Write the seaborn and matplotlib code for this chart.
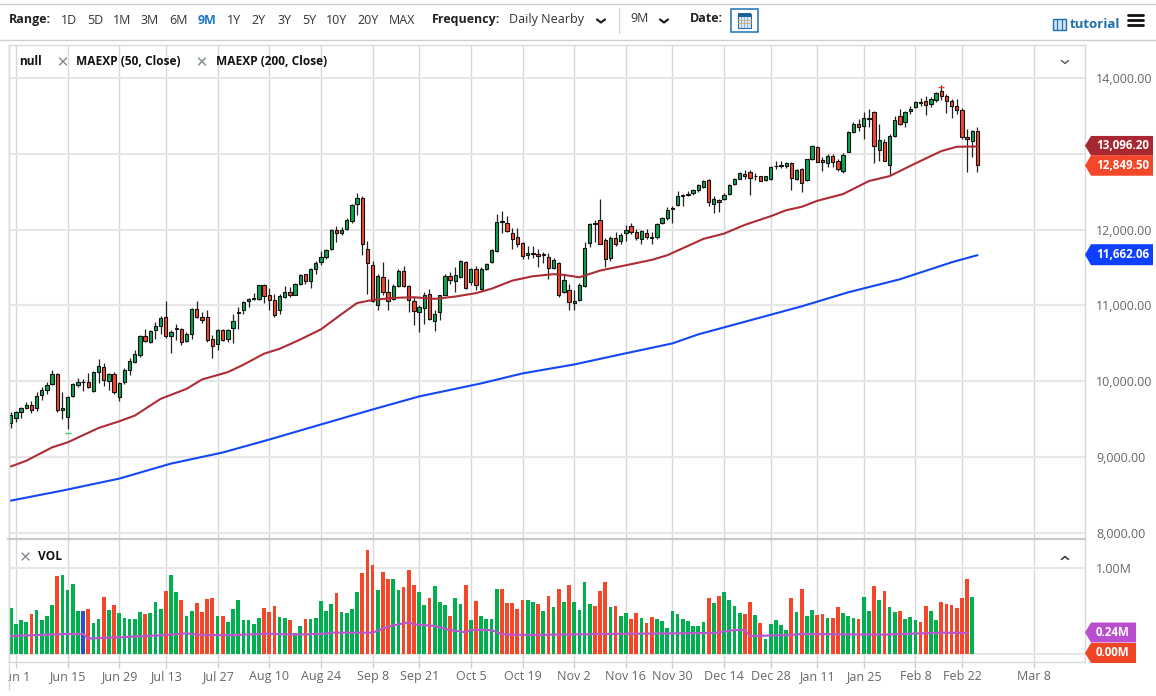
# Daily candle chart with moving averages and a volume pane
import numpy as np
import pandas as pd
import matplotlib
matplotlib.use("Agg")
import matplotlib.pyplot as plt
from matplotlib.patches import Polygon, Rectangle
import seaborn as sns

# Candles, one value per trading day
opens = [
    9453, 9514, 9589, 9651, 9682, 9647, 9815, 9885, 9960, 10088,
    9620, 9528, 9801, 9951, 9982, 9987, 9868, 10124, 10181, 10000,
    10093, 9788, 9982, 10141, 10256, 10349, 10600, 10521, 10671, 10728,
    10852, 10600, 10706, 10689, 10530, 10622, 10954, 10852, 10852, 10561,
    10494, 10680, 10556, 10702, 10909, 10932, 11051, 11082, 11090, 11263,
    11139, 11077, 10932, 11108, 11179, 11138, 11277, 11415, 11322, 11478,
    11572, 11634, 11741, 11991, 11955, 12009, 12116, 12335, 12420, 11746,
    11531, 11004, 11375, 11179, 11085, 11259, 11451, 11250, 11063, 10911,
    10964, 11156, 10795, 10911, 11143, 11384, 11322, 11375, 11571, 11304,
    11473, 11219, 11473, 11567, 11723, 12098, 12089, 11955, 11897, 11817,
    11661, 11679, 11683, 11670, 11634, 11496, 11558, 11179, 11206, 11027,
    11076, 11256, 11824, 12075, 12132, 11868, 11626, 11894, 11850, 11960,
    12053, 11974, 11872, 11960, 11894, 11903, 12092, 12158, 12277, 12326,
    12449, 12458, 12484, 12519, 12563, 12656, 12339, 12392, 12405, 12471,
    12598, 12673, 12739, 12757, 12704, 12700, 12651, 12669, 12832, 12858,
    12836, 12884, 12669, 12796, 12653, 12925, 13092, 12912, 12881, 12969,
    12903, 12771, 13026, 13281, 13387, 13365, 13475, 13549, 13048, 13154,
    12846, 13229, 13497, 13422, 13558, 13615, 13668, 13690, 13655, 13703,
    13822, 13756, 13695, 13633, 13580, 13224, 13163, 13299,
]
highs = [
    9589, 9611, 9664, 9731, 9744, 9850, 9920, 9991, 10150, 10106,
    9850, 9806, 9978, 10044, 10026, 10106, 10132, 10296, 10238, 10106,
    10115, 9991, 10168, 10300, 10415, 10609, 10689, 10680, 10781, 10856,
    11051, 10671, 10759, 10698, 10649, 10962, 11051, 10914, 10936, 10605,
    10684, 10684, 10693, 10892, 10980, 11060, 11095, 11157, 11272, 11280,
    11223, 11148, 11148, 11259, 11241, 11295, 11420, 11420, 11491, 11580,
    11714, 11741, 12009, 12045, 12036, 12156, 12339, 12478, 12437, 11844,
    11589, 11411, 11567, 11353, 11277, 11473, 11522, 11268, 11116, 11004,
    11179, 11219, 10938, 11143, 11411, 11442, 11509, 11598, 11589, 11491,
    11518, 11500, 11554, 11741, 12201, 12250, 12179, 12022, 12018, 11839,
    11786, 11786, 11741, 11705, 11688, 11621, 11571, 11406, 11277, 11206,
    11290, 11833, 12092, 12123, 12400, 11894, 11912, 11965, 11956, 12057,
    12088, 12009, 12000, 12009, 11974, 12088, 12167, 12299, 12317, 12506,
    12466, 12510, 12537, 12607, 12651, 12664, 12440, 12409, 12484, 12607,
    12686, 12761, 12783, 12783, 12748, 12713, 12713, 12845, 12906, 12898,
    12889, 12893, 12805, 12818, 12937, 13110, 13105, 12960, 12996, 12991,
    12925, 13004, 13303, 13418, 13453, 13545, 13593, 13567, 13387, 13189,
    13255, 13501, 13585, 13567, 13629, 13699, 13730, 13760, 13743, 13818,
    13901, 13787, 13725, 13717, 13598, 13321, 13312, 13347,
]
lows = [
    9382, 9457, 9514, 9634, 9581, 9611, 9753, 9832, 9947, 9589,
    9497, 9369, 9788, 9920, 9876, 9912, 9850, 9974, 9934, 9885,
    9832, 9735, 9956, 10075, 10238, 10318, 10512, 10503, 10560, 10627,
    10574, 10371, 10539, 10477, 10517, 10560, 10839, 10768, 10521, 10305,
    10406, 10525, 10512, 10508, 10693, 10883, 10980, 11068, 11068, 11033,
    10936, 10848, 10883, 11099, 11116, 11130, 11268, 11286, 11228, 11411,
    11536, 11607, 11732, 11839, 11933, 11991, 12089, 12187, 11665, 11152,
    11040, 10938, 11130, 10938, 11072, 11241, 11241, 10911, 10741, 10652,
    10750, 10808, 10656, 10804, 11130, 11286, 11170, 11366, 11219, 11263,
    11197, 11205, 11464, 11554, 11710, 11955, 11973, 11741, 11768, 11607,
    11607, 11620, 11509, 11554, 11348, 11482, 11116, 11161, 10938, 10938,
    11055, 11243, 11771, 11837, 11806, 11507, 11586, 11789, 11806, 11850,
    11938, 11868, 11806, 11877, 11806, 11881, 12079, 12132, 12088, 12308,
    12308, 12440, 12453, 12497, 12554, 12308, 12220, 12233, 12387, 12458,
    12590, 12664, 12673, 12462, 12651, 12634, 12642, 12660, 12805, 12818,
    12818, 12528, 12660, 12493, 12642, 12916, 12886, 12771, 12829, 12820,
    12776, 12741, 13018, 13273, 13299, 13189, 13347, 12881, 12908, 12899,
    12719, 13220, 13378, 13347, 13519, 13607, 13629, 13510, 13611, 13681,
    13708, 13541, 13466, 13523, 13198, 12763, 12956, 12763,
]
closes = [
    9559, 9598, 9651, 9687, 9625, 9806, 9885, 9951, 10088, 9620,
    9647, 9788, 9960, 9987, 9991, 9920, 10124, 10194, 10009, 10088,
    9863, 9978, 10150, 10269, 10358, 10600, 10530, 10662, 10733, 10839,
    10592, 10649, 10684, 10512, 10627, 10954, 10852, 10808, 10547, 10464,
    10675, 10539, 10680, 10795, 10896, 11046, 11086, 11095, 11263, 11126,
    11077, 10879, 11126, 11170, 11130, 11286, 11406, 11322, 11478, 11563,
    11638, 11732, 11996, 11955, 12000, 12120, 12326, 12420, 11808, 11554,
    11063, 11388, 11174, 11063, 11259, 11451, 11255, 11072, 10924, 10982,
    11143, 10821, 10880, 11134, 11393, 11335, 11406, 11580, 11232, 11473,
    11268, 11473, 11540, 11728, 12103, 12107, 11982, 11880, 11804, 11656,
    11696, 11692, 11656, 11679, 11496, 11594, 11130, 11339, 11040, 11054,
    11265, 11762, 12075, 12088, 11815, 11617, 11886, 11806, 11934, 12000,
    11969, 11886, 11982, 11899, 11903, 12070, 12150, 12255, 12286, 12449,
    12458, 12471, 12524, 12594, 12634, 12365, 12400, 12365, 12462, 12594,
    12673, 12748, 12713, 12682, 12713, 12642, 12700, 12827, 12840, 12836,
    12880, 12682, 12792, 12616, 12925, 13097, 12894, 12890, 12969, 12894,
    12802, 12978, 13290, 13396, 13356, 13466, 13453, 13101, 13180, 12908,
    13229, 13440, 13387, 13545, 13593, 13677, 13677, 13637, 13721, 13796,
    13760, 13690, 13629, 13571, 13215, 13189, 13299, 12849.5,
]

# Volume in millions, last day has none yet
volumes = [
    .53, .345, .39, .376, .465, .515, .395, .446, .566, .907,
    .915, .744, .81, .504, .496, .52, .357, .403, .659, .512,
    .574, .477, .422, .403, .403, .484, .465, .48, .605, .527,
    .733, .915, .717, .628, .442, .496, .589, .484, .643, .651,
    .442, .446, .368, .519, .628, .391, .395, .349, .419, .531,
    .488, .558, .434, .415, .395, .244, .326, .411, .403, .415,
    .616, .496, .581, .705, .488, .48, .519, .725, .938, 1.209,
    1.031, .744, .957, .872, .868, .744, .779, .973, .798, .725,
    .574, .655, .791, .601, .57, .442, .647, .581, .806, .399,
    .612, .442, .403, .407, .756, .756, .597, .597, .527, .624,
    .624, .601, .581, .504, .674, .55, .752, .605, .802, .601,
    .512, .841, .578, .554, .733, .833, .547, .554, .446, .473,
    .403, .477, .422, .36, .426, .403, .388, .298, .496, .465,
    .403, .38, .326, .326, .376, .651, .589, .674, .717, .624,
    .558, .473, .461, .605, .457, .357, .174, .349, .395, .337,
    .279, .651, .484, .752, .438, .512, .453, .461, .415, .419,
    .543, .481, .438, .422, .407, .663, .5, .787, .624, .736,
    .55, .488, .5, .407, .43, .395, .368, .554, .496, .395,
    .605, .581, .574, .535, .651, .872, .659, 0,
]
vol_colors = list(
    "GGGGRGGGGR" "GGGGBRGGRG" "RGGGGGRGGG" "RGGRGGRRRR" "GRGGGGGGGR"
    "RRGGRGGRGG" "GGGRGGGGRR" "RGRRGGRRRG" "GRGGGRGGRG" "RGGGGRRRRR"
    "GGRGRGRGRG" "GGGRRRGRGG" "RRGRRGGGGG" "GGGGGRGRGG" "GGRRGRGGGG"
    "GRGRGGRRGR" "RGGGRGGRGR" "GGRGGGRRGG" "RRRRRRGG"
)

# Moving averages, read at the bars listed
ma50_idx = [0, 3, 8, 11, 17, 21, 24, 29, 34, 37, 42, 45, 49, 52, 56, 60, 64, 67, 70, 74,
            78, 82, 86, 90, 93, 97, 101, 105, 107, 110, 114, 119, 124, 127, 134, 138,
            142, 147, 150, 153, 156, 161, 166, 170, 175, 180, 183, 187]
ma50 = [8873, 8949, 9126, 9192, 9382, 9470, 9545, 9766, 9898, 10022, 10119, 10216, 10362,
        10426, 10549, 10683, 10884, 11031, 11071, 11098, 11107, 11085, 11116, 11161, 11219,
        11326, 11384, 11411, 11402, 11370, 11459, 11529, 11600, 11661, 11877, 11947, 12062,
        12176, 12255, 12300, 12379, 12468, 12640, 12705, 12873, 13035, 13092, 13096.2]
ma200_idx = [0, 10, 21, 31, 41, 50, 60, 70, 79, 91, 99, 109, 118, 128, 133, 143, 153, 162,
             172, 182, 187]
ma200 = [8423, 8556, 8714, 8912, 9058, 9229, 9428, 9626, 9798, 9970, 10102, 10220, 10353,
         10498, 10617, 10802, 10987, 11172, 11344, 11568, 11662.06]
volma_idx = [0, 11, 14, 15, 21, 30, 34, 37, 43, 50, 55, 61, 62, 70, 73, 75, 77, 78, 82, 85,
             88, 89, 93, 95, 100, 115, 136, 140, 142, 143, 151, 153, 169, 180, 185]
volma = [.21, .233, .233, .18, .194, .22, .24, .22, .22, .236, .225, .236, .248, .248, .318,
         .345, .368, .345, .326, .279, .252, .279, .279, .229, .221, .233, .244, .279, .277,
         .209, .221, .233, .225, .248, .244]

# Axis ticks
price_ticks = [8000, 9000, 10000, 11000, 12000, 13000, 14000]
date_labels = ["Jun 1", "Jun 15", "Jun 29", "Jul 13", "Jul 27", "Aug 10", "Aug 24", "Sep 8",
               "Sep 21", "Oct 5", "Oct 19", "Nov 2", "Nov 16", "Nov 30", "Dec 14", "Dec 28",
               "Jan 11", "Jan 25", "Feb 8", "Feb 22", "Mar 8"]
date_idx = [1, 11, 21, 30, 40, 50, 60, 70, 79, 89, 99, 109, 119, 128, 138, 147, 156, 165,
            175, 184, 198]

GREEN = "#0aa550"
RED = "#f4472a"
VOL_GREEN = "#00b04f"
GRID_H = "#e6e6e6"
GRID_V = "#d8d8d8"
TEXT = "#666666"

sns.set_theme(style="white")
plt.rcParams["font.family"] = ["Open Sans", "DejaVu Sans"]

W, H = 1156, 696
fig = plt.figure(figsize=(W / 100, H / 100), dpi=100)


def pane(left, top, right, bottom):
    return fig.add_axes([left / W, 1 - bottom / H, (right - left) / W, (bottom - top) / H])


ax = pane(8.5, 45, 1085, 539)
ax_vol = pane(8.5, 539, 1085, 662)

df = pd.DataFrame({"idx": np.arange(len(closes)), "open": opens, "high": highs, "low": lows,
                   "close": closes, "vol": volumes, "vcol": vol_colors})

# Price pane
up = df["close"] >= df["open"]
ax.vlines(df["idx"], df["low"], df["high"], color="#222222", lw=0.9, zorder=3)
ax.bar(df["idx"], (df["close"] - df["open"]).abs(), bottom=df[["open", "close"]].min(axis=1),
       width=0.64, color=np.where(up, GREEN, RED), edgecolor="#111111", lw=0.8, zorder=4)
sns.lineplot(x=ma50_idx, y=ma50, ax=ax, color="#ad2c36", lw=1.5, estimator=None, zorder=5)
sns.lineplot(x=ma200_idx, y=ma200, ax=ax, color="#1447f5", lw=1.5, estimator=None, zorder=5)

# small swing markers above the top and under the bottom
ax.plot([180], [13885], marker="_", ms=4, mew=1, color=RED, zorder=5)
ax.plot([11], [9315], marker="_", ms=4, mew=1, color="#2ecc71", zorder=5)

# Volume pane
sns.barplot(data=df, x="idx", y="vol", hue="vcol", hue_order=["G", "R", "B"],
            palette={"G": VOL_GREEN, "R": RED, "B": "#2a52c8"}, native_scale=True, dodge=False,
            width=0.72, saturation=1, legend=False, ax=ax_vol, zorder=3, edgecolor="none")
sns.lineplot(x=volma_idx, y=volma, ax=ax_vol, color="#bb55cc", lw=1.6, estimator=None, zorder=5)

for a in (ax, ax_vol):
    a.set_xlim(-0.43, 207.8)
    a.set_xticks(date_idx)
    a.grid(True, axis="x", color=GRID_V, lw=1.0, zorder=0)
    a.grid(True, axis="y", color=GRID_H, lw=1.5, zorder=0)
    a.set_axisbelow(True)
    a.set_xlabel("")
    a.set_ylabel("")
    a.yaxis.tick_right()
    for s in a.spines.values():
        s.set_visible(True)
        s.set_color("#d9d9d9")
        s.set_linewidth(1.0)
ax.spines["bottom"].set_visible(False)
ax_vol.spines["top"].set_visible(False)

ax.set_ylim(7917, 14435)
ax.set_yticks(price_ticks)
ax.set_yticklabels([f"{t:,.2f}" for t in price_ticks], fontsize=9, color=TEXT)
ax.tick_params(axis="y", length=0, pad=8)
ax.tick_params(axis="x", length=0, labelbottom=False)

ax_vol.set_ylim(-0.093, 1.337)
ax_vol.set_yticks([0, 1])
ax_vol.set_yticklabels(["", "1.00M"], fontsize=9, color=TEXT)
ax_vol.tick_params(axis="y", length=0, pad=8)
ax_vol.set_xticklabels(date_labels, fontsize=9, color=TEXT)
ax_vol.tick_params(axis="x", length=4.3, width=1.0, color="#cccccc", pad=1.5, bottom=True)

# Page furniture drawn in pixel coordinates on top of the panes
ui = fig.add_axes([0, 0, 1, 1], zorder=20)
ui.set_xlim(0, W)
ui.set_ylim(H, 0)
ui.axis("off")
ui.patch.set_alpha(0)


def label(x, y, s, bold=False, color="#222222", size=9, ha="left"):
    ui.text(x, y, s, fontsize=size, color=color, ha=ha, va="center",
            fontweight="bold" if bold else "normal")


def chevron(x, y, up_=False, color="#222222", lw=1.6, w=4, h=3):
    d = -h if up_ else h
    ui.plot([x - w, x, x + w], [y - d / 2, y + d / 2, y - d / 2], color=color, lw=lw)


def flag(y_mid, right, h, color, s):
    t = h / 2
    ui.add_patch(Polygon([(1085, y_mid), (1091, y_mid - t), (right, y_mid - t),
                          (right, y_mid + t), (1091, y_mid + t)], color=color, lw=0))
    ui.text(1096, y_mid, s, fontsize=8.4, fontweight="bold", color="white", va="center")


# white edge left of the frame clips the first date label
ui.add_patch(Rectangle((0, 664), 8, 28, color="white", lw=0))
ui.plot([8.5, 8.5], [45, 690], color="#d9d9d9", lw=1.0)
ui.plot([8, 1085], [539, 539], color="#c9c9c9", lw=1.6)
ui.plot([0, W], [3.5, 3.5], color="#cfcfcf", lw=1.0)
ui.plot([0, W], [40, 40], color="#cfcfcf", lw=1.0)

# toolbar
label(9, 19, "Range:", bold=True)
for x, s in [(69, "1D"), (95, "5D"), (122, "1M"), (150, "3M"), (178, "6M"), (234, "1Y"),
             (259, "2Y"), (284, "3Y"), (309, "5Y"), (337, "10Y"), (368, "20Y"), (402, "MAX")]:
    label(x, 20, s, ha="center", color="#333333")
label(207, 20, "9M", bold=True, color="#1f78c8", ha="center")
label(432, 19, "Frequency:", bold=True)
label(509, 19, "Daily Nearby", color="#333333")
chevron(601, 21)
ui.plot([619, 619], [8, 33], color="#d5d5d5", lw=1)
label(630, 19, "9M", color="#333333")
chevron(664, 21)
label(690, 19, "Date:", bold=True)

# calendar button
ui.add_patch(Rectangle((730.5, 8.5), 27, 23, fc="white", ec="#1f6fb5", lw=1.1))
ui.add_patch(Rectangle((738, 14), 12.5, 13.5, fc="#dbe8f5", ec="#2a6ea8", lw=0.8))
ui.add_patch(Rectangle((738, 13), 12.5, 3.5, fc="#1f5f99", lw=0))
for x in (741, 744, 747):
    ui.plot([x, x], [17, 27], color="#8db6da", lw=0.7)
for y in (20, 23):
    ui.plot([738, 750.5], [y, y], color="#e0a878", lw=0.6)

ui.add_patch(Rectangle((1053, 19), 13, 11, fc="#cfe2f3", ec="#1f6fb5", lw=1))
ui.plot([1057, 1057], [19, 30], color="#1f6fb5", lw=0.8)
ui.plot([1062, 1062], [19, 30], color="#1f6fb5", lw=0.8)
label(1070, 24, "tutorial", bold=True, color="#1f6fa8", size=9.5)
for y in (15, 20, 25):
    ui.plot([1128, 1143], [y, y], color="#111111", lw=2.0)

# pane legends
label(19, 61.5, "null", bold=True, size=8.6, color="#111111")
label(76, 61.5, "MAEXP (50, Close)", bold=True, size=8.6, color="#111111")
label(216, 61.5, "MAEXP (200, Close)", bold=True, size=8.6, color="#111111")
label(38, 556.5, "VOL", bold=True, size=8.6, color="#111111")
for x, y in [(63, 61.5), (202, 61.5), (25.5, 556.5)]:
    ui.plot([x - 3.5, x + 3.5], [y - 3.5, y + 3.5], color="#7f8890", lw=1)
    ui.plot([x - 3.5, x + 3.5], [y + 3.5, y - 3.5], color="#7f8890", lw=1)
chevron(1065, 62, color="#555555", lw=1, w=3.5, h=3)
chevron(1065, 558, up_=True, color="#333333", lw=1.1, w=3.5, h=3)

# last value flags
flag(145.7, 1153, 19.5, "#a82832", "13,096.20")
flag(165.5, 1153, 20.5, RED, "12,849.50")
flag(254.7, 1153, 21, "#0f3fff", "11,662.06")
flag(632.5, 1136, 20, "#b94fcf", "0.24M")
flag(653, 1136, 20, "#f04525", "0.00M")

fig.savefig("out.png", dpi=100)
